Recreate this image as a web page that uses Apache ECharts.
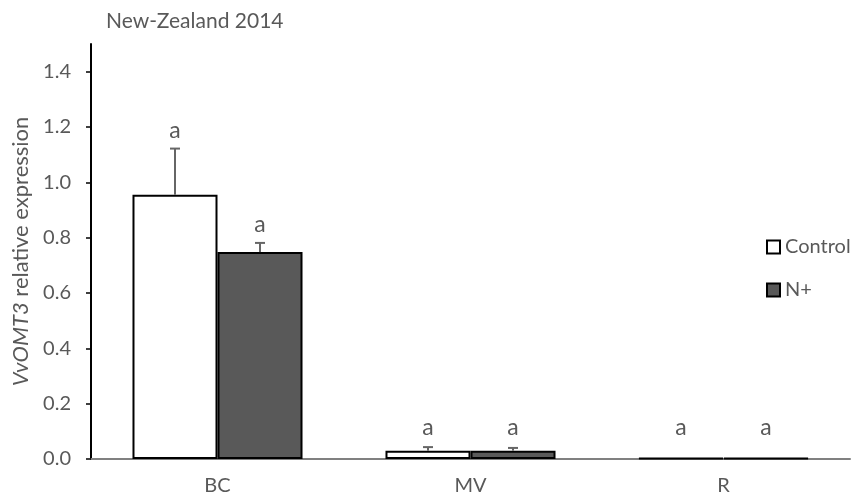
<!DOCTYPE html>
<html>
<head>
<meta charset="utf-8">
<script src="https://cdn.jsdelivr.net/npm/echarts@6/dist/echarts.min.js"></script>
<style>
html,body{margin:0;padding:0;background:#fff;}
#chart{width:853px;height:500px;}
</style>
</head>
<body>
<div id="chart"></div>
<script>
var categories = ['BC', 'MV', 'R'];
var controlValues = [0.955, 0.030, 0.003];
var nPlusValues = [0.748, 0.030, 0.003];
var controlErr = [0.167, 0.013, 0.001];
var nPlusErr = [0.033, 0.010, 0.001];
var controlLetters = ['a', 'a', 'a'];
var nPlusLetters = ['a', 'a', 'a'];
var yTicks = [0, 0.2, 0.4, 0.6, 0.8, 1.0, 1.2, 1.4];

var FONT = 'Lato';
var FS = 20;
var GREY = '#595959';
var BAR_FRAC = 0.336;

function errSeries(name, values, errs, letters, side) {
  var data = values.map(function (v, i) { return [i, v, errs[i]]; });
  return {
    type: 'custom',
    name: name + '-err',
    z: 5,
    silent: true,
    data: data,
    renderItem: function (params, api) {
      var idx = api.value(0);
      var v = api.value(1);
      var e = api.value(2);
      var letter = letters[idx];
      var band = api.size([1, 0])[0];
      var off = side * band * BAR_FRAC / 2;
      var p0 = api.coord([idx, v]);
      var p1 = api.coord([idx, v + e]);
      var zero = api.coord([idx, 0]);
      var x = p0[0] + off;
      var cap = 5;
      var children = [];
      if (e > 0.002) {
        children.push({ type: 'line', shape: { x1: x, y1: p0[1], x2: x, y2: p1[1] }, style: { stroke: '#666', lineWidth: 2 } });
        children.push({ type: 'line', shape: { x1: x - cap, y1: p1[1], x2: x + cap, y2: p1[1] }, style: { stroke: '#666', lineWidth: 2 } });
      }
      var ty = Math.min(p1[1] - 18, zero[1] - 31);
      children.push({
        type: 'text',
        style: { text: letter, x: x, y: ty, align: 'center', verticalAlign: 'middle', fill: GREY, font: '23px ' + FONT }
      });
      return { type: 'group', children: children };
    }
  };
}

var chart = echarts.init(document.getElementById('chart'));
chart.setOption({
  animation: false,
  backgroundColor: '#fff',
  textStyle: { fontFamily: FONT },
  title: {
    text: 'New-Zealand 2014',
    left: 101, top: 6,
    textStyle: { color: GREY, fontSize: 21, fontWeight: 'normal', fontFamily: FONT }
  },
  legend: {
    orient: 'vertical',
    left: 761, top: 232,
    icon: 'rect',
    itemWidth: 13, itemHeight: 13, itemGap: 23,
    data: ['Control', 'N+'],
    textStyle: { color: GREY, fontSize: FS, fontFamily: FONT }
  },
  grid: { left: 91, right: 3, top: 44, bottom: 41, containLabel: false },
  xAxis: {
    type: 'category',
    data: categories,
    axisLine: { lineStyle: { color: '#808080', width: 2 } },
    axisTick: { show: false },
    axisLabel: { color: GREY, fontSize: FS, margin: 17, fontFamily: FONT }
  },
  yAxis: {
    type: 'value',
    min: 0, max: 1.5, interval: 0.1,
    name: '{i|VvOMT3} relative expression',
    nameLocation: 'middle',
    nameGap: 54,
    nameRotate: 90,
    nameTextStyle: {
      color: GREY, fontSize: 22, fontFamily: FONT,
      rich: { i: { fontStyle: 'italic', color: GREY, fontSize: 22, fontFamily: FONT } }
    },
    splitLine: { show: false },
    axisLine: { show: true, lineStyle: { color: '#000', width: 2 } },
    axisTick: { show: true, inside: false, length: 5, lineStyle: { color: '#000', width: 1.5 }, customValues: yTicks },
    axisLabel: {
      color: GREY, fontSize: FS, margin: 20, fontFamily: FONT,
      customValues: yTicks,
      formatter: function (v) { return v.toFixed(1); }
    }
  },
  series: [
    {
      type: 'bar', name: 'Control', data: controlValues,
      barWidth: (BAR_FRAC * 100) + '%', barGap: '0%',
      itemStyle: { color: '#ffffff', borderColor: '#000', borderWidth: 2 }
    },
    {
      type: 'bar', name: 'N+', data: nPlusValues,
      barWidth: (BAR_FRAC * 100) + '%', barGap: '0%',
      itemStyle: { color: '#595959', borderColor: '#000', borderWidth: 2 }
    },
    errSeries('Control', controlValues, controlErr, controlLetters, -1),
    errSeries('N+', nPlusValues, nPlusErr, nPlusLetters, 1)
  ]
});
</script>
</body>
</html>
